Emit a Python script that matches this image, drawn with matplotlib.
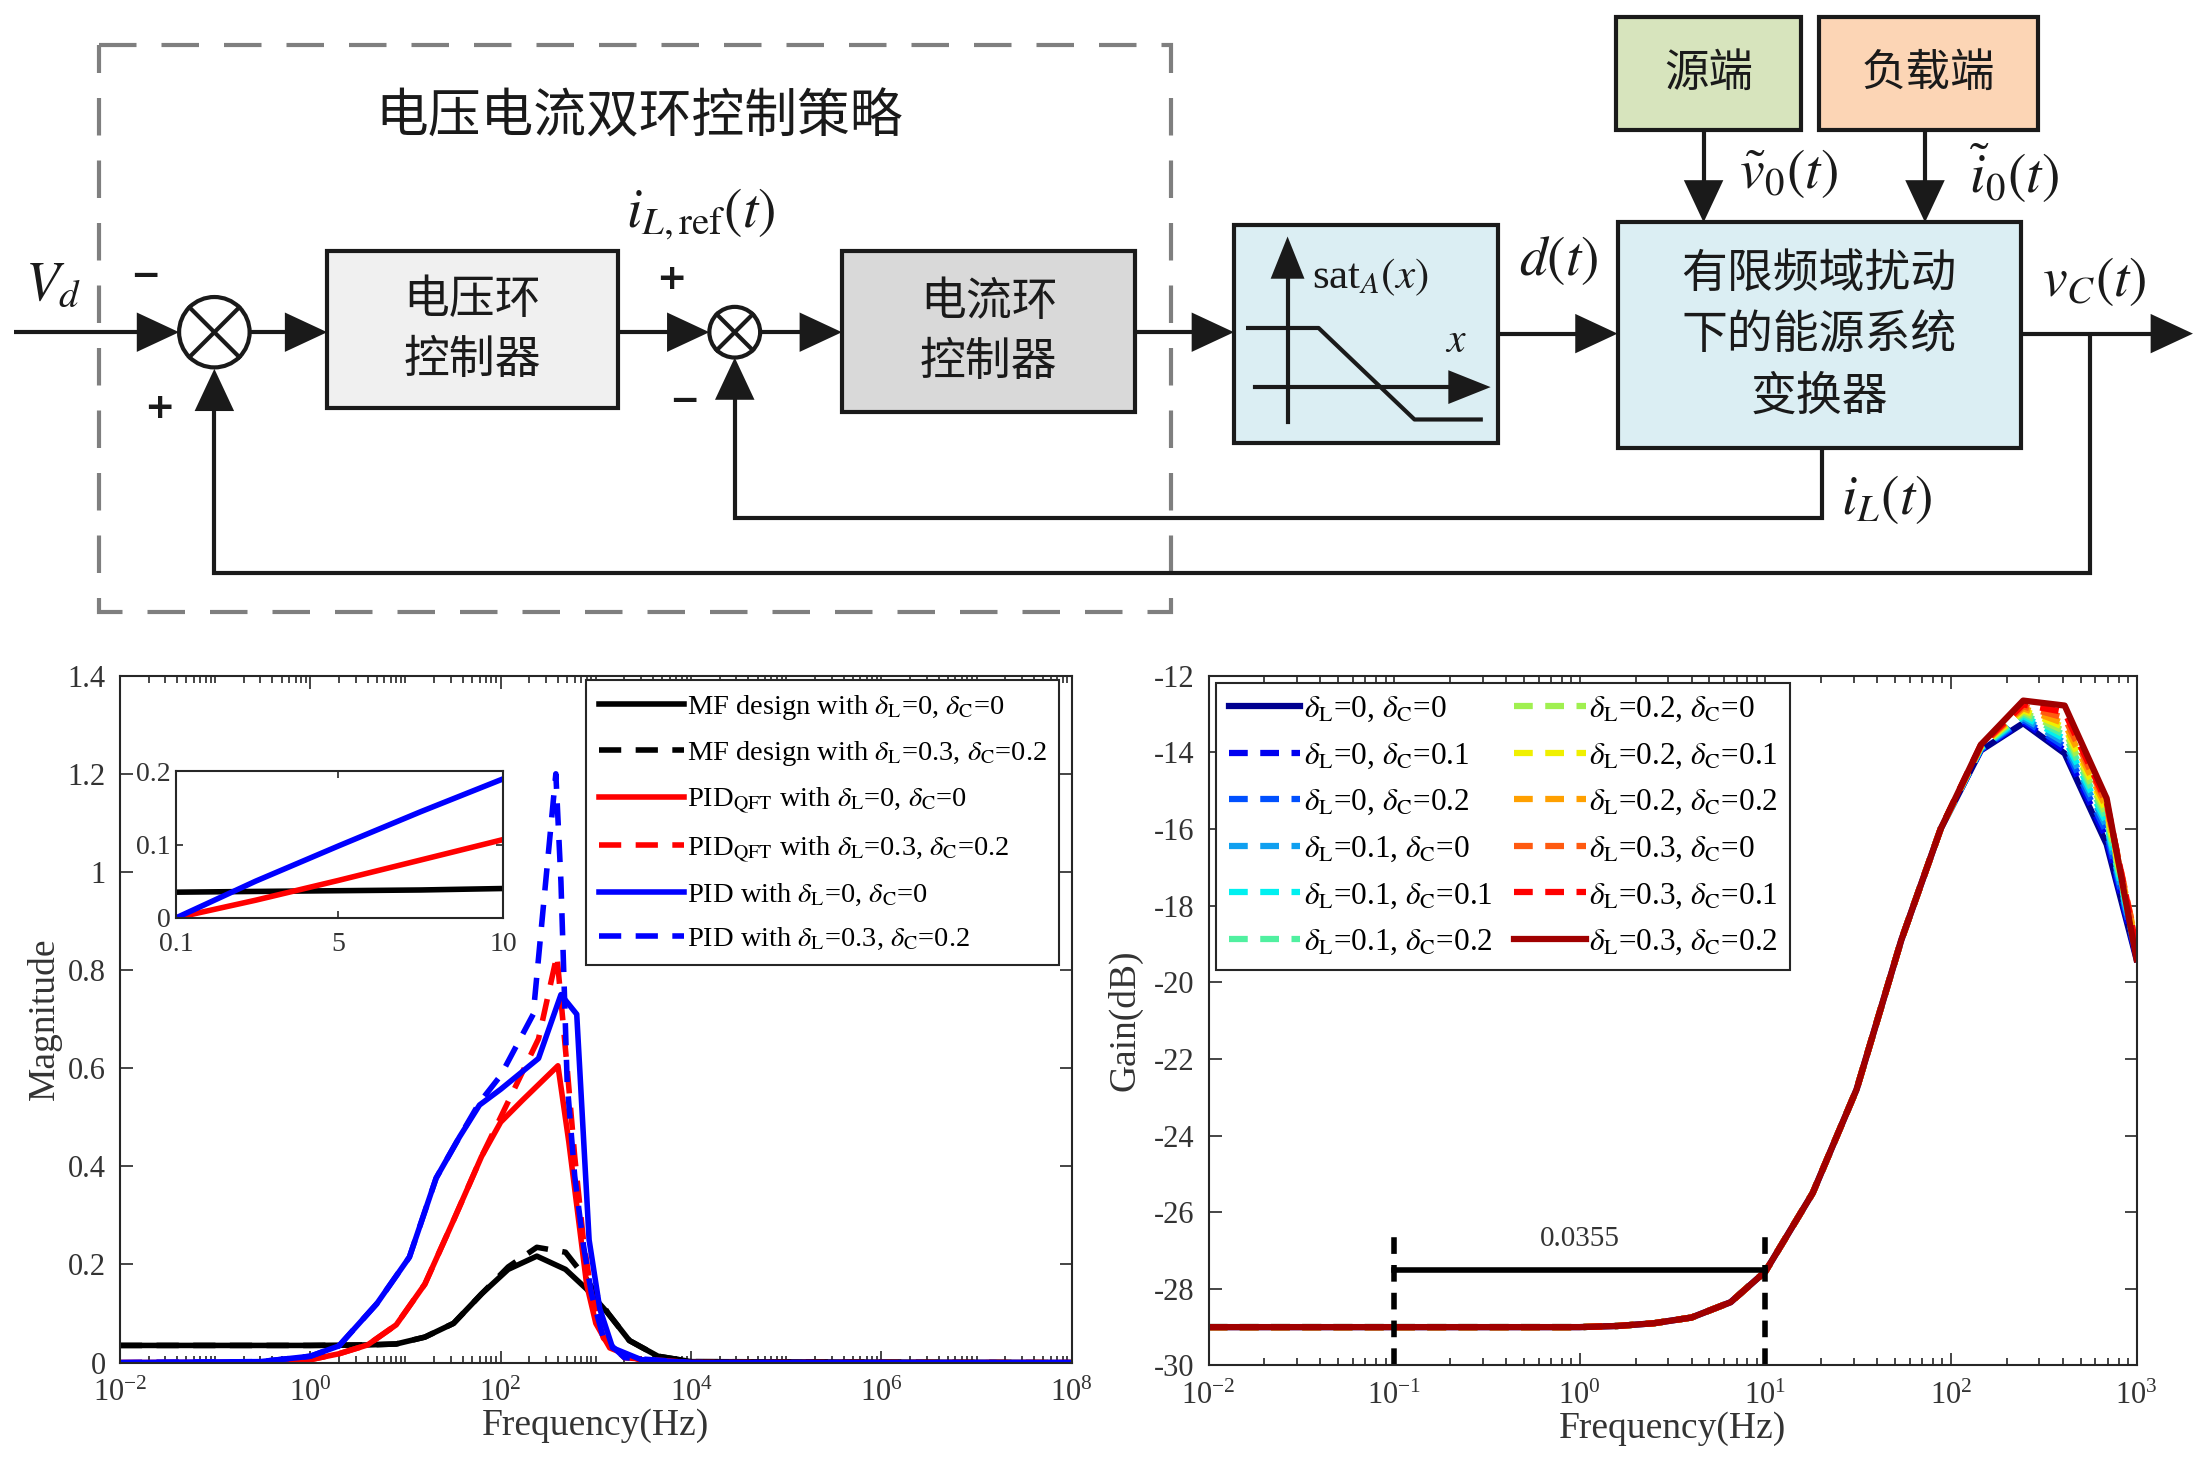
import numpy as np
import matplotlib.pyplot as plt
from matplotlib.patches import Rectangle, Polygon, Circle
from matplotlib.ticker import FuncFormatter, LogLocator, FixedLocator, NullFormatter

plt.rcParams['font.family'] = ['Liberation Serif', 'DejaVu Serif']
plt.rcParams['mathtext.fontset'] = 'stix'

# ---------------- data: magnitude plot (left) ----------------
f_mf = [0.01, 1, 4, 8, 16, 32, 63, 120, 240, 480, 800, 1350, 2250, 4500, 1e4, 1e8]
mf_nom = [0.035, 0.035, 0.036, 0.038, 0.052, 0.08, 0.14, 0.19, 0.217, 0.19, 0.15, 0.1, 0.045, 0.013, 0.002, 0]
mf_unc = [0.035, 0.035, 0.036, 0.038, 0.052, 0.08, 0.14, 0.195, 0.235, 0.225, 0.17, 0.1, 0.045, 0.013, 0.002, 0]

f_qft = [0.01, 0.3, 1, 2, 4, 8, 16, 32, 63, 100, 170, 400, 520, 650, 800, 1000, 1400, 3000, 1e4, 1e8]
qft_nom = [0, 0.001, 0.006, 0.018, 0.036, 0.077, 0.16, 0.29, 0.42, 0.49, 0.535, 0.605, 0.45, 0.3, 0.16, 0.08, 0.03, 0.004, 0, 0]
f_qft_u = [0.01, 0.3, 1, 2, 4, 8, 16, 32, 63, 100, 250, 390, 500, 600, 740, 900, 1200, 2000, 1e4, 1e8]
qft_unc = [0, 0.001, 0.006, 0.018, 0.036, 0.077, 0.16, 0.29, 0.42, 0.5, 0.66, 0.83, 0.6, 0.42, 0.25, 0.14, 0.05, 0.01, 0, 0]

f_pid = [0.01, 0.3, 1, 2, 5, 11, 21, 37, 60, 100, 250, 430, 630, 850, 1100, 1500, 3000, 1e4, 1e8]
pid_nom = [0, 0.002, 0.013, 0.034, 0.12, 0.215, 0.376, 0.46, 0.525, 0.557, 0.62, 0.75, 0.71, 0.25, 0.11, 0.03, 0.006, 0, 0]
f_pid_u = [0.01, 0.3, 1, 2, 5, 11, 21, 37, 60, 100, 220, 380, 430, 500, 600, 740, 900, 1200, 2000, 1e4, 1e8]
pid_unc = [0, 0.002, 0.013, 0.034, 0.12, 0.215, 0.376, 0.46, 0.53, 0.585, 0.71, 1.2, 0.98, 0.57, 0.38, 0.24, 0.14, 0.05, 0.01, 0, 0]

# inset (0.1 .. 10 Hz, linear)
f_ins = [0.1, 2.5, 5, 7.5, 10]
ins_mf = [0.035, 0.036, 0.037, 0.038, 0.04]
ins_qft = [0, 0.024, 0.051, 0.079, 0.107]
ins_pid = [0, 0.05, 0.098, 0.145, 0.19]

mag_labels = [r'MF design with $\delta_{\mathrm{L}}$=0, $\delta_{\mathrm{C}}$=0',
              r'MF design with $\delta_{\mathrm{L}}$=0.3, $\delta_{\mathrm{C}}$=0.2',
              r'PID$_{\mathrm{QFT}}$ with $\delta_{\mathrm{L}}$=0, $\delta_{\mathrm{C}}$=0',
              r'PID$_{\mathrm{QFT}}$ with $\delta_{\mathrm{L}}$=0.3, $\delta_{\mathrm{C}}$=0.2',
              r'PID with $\delta_{\mathrm{L}}$=0, $\delta_{\mathrm{C}}$=0',
              r'PID with $\delta_{\mathrm{L}}$=0.3, $\delta_{\mathrm{C}}$=0.2']

# ---------------- data: gain plot (right) ----------------
f_low = [0.01, 0.03, 0.1, 0.3, 1, 1.6, 2.5, 4, 6.5, 10, 18, 31, 54, 88]
g_low = [-29.0, -29.0, -29.0, -29.0, -29.0, -28.97, -28.9, -28.75, -28.35, -27.55, -25.5, -22.8, -18.9, -16.0]
f_top = [145, 245, 410, 690, 1000]
dL = ['0', '0', '0', '0.1', '0.1', '0.1', '0.2', '0.2', '0.2', '0.3', '0.3', '0.3']
dC = ['0', '0.1', '0.2', '0', '0.1', '0.2', '0', '0.1', '0.2', '0', '0.1', '0.2']
g_top = [[-13.95, -13.24, -14.03, -16.4, -19.4],
         [-13.93, -13.2, -13.95, -16.25, -19.35],
         [-13.92, -13.15, -13.85, -16.1, -19.3],
         [-13.9, -13.1, -13.75, -15.95, -19.25],
         [-13.88, -13.05, -13.65, -15.85, -19.2],
         [-13.87, -13.0, -13.55, -15.75, -19.15],
         [-13.85, -12.95, -13.45, -15.65, -19.1],
         [-13.84, -12.9, -13.35, -15.55, -19.05],
         [-13.83, -12.85, -13.25, -15.45, -19.0],
         [-13.82, -12.8, -13.1, -15.35, -19.0],
         [-13.81, -12.75, -12.95, -15.3, -19.1],
         [-13.8, -12.65, -12.78, -15.2, -19.4]]
gain_colors = ['#00008f', '#0000f0', '#0050ff', '#10a0f0', '#00f0f0', '#50f0a0',
               '#a0f050', '#f0f000', '#ffa000', '#ff5a10', '#ff0000', '#a00000']
band_lo, band_hi, band_level, band_text = 0.1, 10, -27.5, '0.0355'

k = '#1a1a1a'
tc = '#333333'

fig = plt.figure(figsize=(22, 14.71), dpi=100)

# ---------------- block diagram (coords in a 1560 x 1045 canvas) ----------------
ax0 = fig.add_axes([0, 0, 1, 1])
ax0.set_xlim(0, 1560)
ax0.set_ylim(1045, 0)
ax0.axis('off')

def line(xs, ys):
    ax0.plot(xs, ys, color=k, lw=3, solid_capstyle='butt', solid_joinstyle='miter', zorder=3)

def head(x, y, d, L=30, W=14):
    if d == 'r':
        pts = [(x, y), (x - L, y - W), (x - L, y + W)]
    elif d == 'd':
        pts = [(x, y), (x - W, y - L), (x + W, y - L)]
    else:
        pts = [(x, y), (x - W, y + L), (x + W, y + L)]
    ax0.add_patch(Polygon(pts, closed=True, fc=k, ec=k, lw=0, zorder=5))

def box(x0, y0, x1, y1, fc, txt, fs, ls=1.3):
    ax0.add_patch(Rectangle((x0, y0), x1 - x0, y1 - y0, fc=fc, ec=k, lw=3, zorder=2))
    ax0.text((x0 + x1) / 2, (y0 + y1) / 2, txt, ha='center', va='center', fontsize=fs,
             family=['Noto Sans CJK SC', 'DejaVu Sans'], color=k, linespacing=ls, zorder=4)

def junction(cx, cy, r):
    ax0.add_patch(Circle((cx, cy), r, fc='white', ec=k, lw=3, zorder=4))
    d = r * 0.707
    ax0.plot([cx - d, cx + d], [cy - d, cy + d], color=k, lw=3, zorder=5)
    ax0.plot([cx - d, cx + d], [cy + d, cy - d], color=k, lw=3, zorder=5)

ax0.add_patch(Rectangle((70, 32), 760, 403, fill=False, ec='#7f7f7f', lw=3,
                        ls=(0, (9, 6)), zorder=1))
ax0.text(453, 83, '电压电流双环控制策略', ha='center', va='center', fontsize=38,
         family=['Noto Sans CJK SC', 'DejaVu Sans'], color=k)

box(232, 178, 438, 290, '#f0f0f0', '电压环\n控制器', 33)
box(597, 178, 805, 293, '#d9d9d9', '电流环\n控制器', 33)
box(875, 160, 1062, 315, '#dbeef3', '', 30)
box(1147, 158, 1433, 318, '#dbeef3', '有限频域扰动\n下的能源系统\n变换器', 33, 1.35)
box(1146, 12, 1277, 92, '#d7e4bd', '源端', 32)
box(1290, 12, 1445, 92, '#fcd5b5', '负载端', 32)

junction(152, 236, 25)
junction(521, 236, 18)

# forward path
line([10, 110], [236, 236]); head(127, 236, 'r')
line([178, 215], [236, 236]); head(232, 236, 'r')
line([438, 490], [236, 236]); head(503, 236, 'r')
line([540, 580], [236, 236]); head(597, 236, 'r')
line([805, 860], [236, 236]); head(875, 236, 'r')
line([1062, 1130], [237, 237]); head(1147, 237, 'r')
line([1433, 1540], [237, 237]); head(1555, 237, 'r')
line([1208, 1208], [92, 140]); head(1208, 158, 'd')
line([1365, 1365], [92, 140]); head(1365, 158, 'd')
# feedback paths
line([1482, 1482, 152, 152], [237, 407, 407, 280]); head(152, 262, 'u')
line([1292, 1292, 521, 521], [318, 368, 368, 270]); head(521, 254, 'u')

# saturation glyph
ax0.plot([913, 913], [300, 190], color=k, lw=3, zorder=4); head(913, 168, 'u', L=30, W=12)
ax0.plot([890, 1035], [275, 275], color=k, lw=3, zorder=4); head(1057, 275, 'r', L=30, W=12)
ax0.plot([885, 935, 1003, 1050], [233, 233, 298, 298], color=k, lw=3, zorder=4)
ax0.text(930, 197, r'sat$_{A}(x)$', fontsize=31, va='center', ha='left', color=k, zorder=6)
ax0.text(1032, 243, r'$x$', fontsize=30, va='center', ha='center', color=k, zorder=6)

# signs and signal labels
for sx, sy, s in [(103, 196, '−'), (113, 290, '+'), (476, 198, '+'), (485, 285, '−')]:
    ax0.text(sx, sy, s, fontsize=26, fontweight='bold', family='DejaVu Sans',
             ha='center', va='center', color=k)
ms = 40
ax0.text(38, 203, r'$V_d$', fontsize=ms, ha='center', va='center', color=k)
ax0.text(497, 152, r'$i_{L,\mathrm{ref}}(t)$', fontsize=ms, ha='center', va='center', color=k)
ax0.text(1105, 185, r'$d(t)$', fontsize=ms, ha='center', va='center', color=k)
ax0.text(1268, 123, r'$\tilde{v}_0(t)$', fontsize=ms, ha='center', va='center', color=k)
ax0.text(1428, 123, r'$\tilde{i}_0(t)$', fontsize=ms, ha='center', va='center', color=k)
ax0.text(1485, 200, r'$v_C(t)$', fontsize=ms, ha='center', va='center', color=k)
ax0.text(1338, 355, r'$i_L(t)$', fontsize=ms, ha='center', va='center', color=k)

# ---------------- axes styling ----------------
def style(ax, size=22):
    for sp in ax.spines.values():
        sp.set_color('#262626')
        sp.set_linewidth(1.5)
    ax.tick_params(which='both', direction='in', top=True, right=True, colors='#262626',
                   labelcolor=tc, labelsize=size, width=1.2)
    ax.tick_params(which='major', length=9)
    ax.tick_params(which='minor', length=5)
    ax.tick_params(axis='x', which='major', pad=12)
    ax.tick_params(axis='y', which='major', pad=10)

gfmt = FuncFormatter(lambda v, p: '%g' % v)

# ---------------- left: magnitude ----------------
W, H = 1560, 1045
axL = fig.add_axes([85 / W, 1 - 968 / H, 675 / W, 488 / H])
lw = 4
axL.plot(f_mf, mf_nom, color='black', lw=lw, label=mag_labels[0])
axL.plot(f_mf, mf_unc, color='black', lw=lw, ls=(0, (4, 2.6)), label=mag_labels[1])
axL.plot(f_qft, qft_nom, color='#ff0000', lw=lw, label=mag_labels[2])
axL.plot(f_qft_u, qft_unc, color='#ff0000', lw=lw, ls=(0, (4, 2.6)), label=mag_labels[3])
axL.plot(f_pid, pid_nom, color='#0000ff', lw=lw, label=mag_labels[4])
axL.plot(f_pid_u, pid_unc, color='#0000ff', lw=lw, ls=(0, (4, 2.6)), label=mag_labels[5])
axL.set_xscale('log')
axL.set_xlim(1e-2, 1e8)
axL.set_ylim(0, 1.4)
axL.xaxis.set_major_locator(FixedLocator([1e-2, 1e0, 1e2, 1e4, 1e6, 1e8]))
axL.xaxis.set_minor_locator(LogLocator(base=10, subs=np.arange(1, 10), numticks=200))
axL.xaxis.set_minor_formatter(NullFormatter())
axL.set_yticks(np.arange(0, 1.41, 0.2))
axL.yaxis.set_major_formatter(gfmt)
style(axL)
axL.set_xlabel('Frequency(Hz)', fontsize=27, color=tc, labelpad=0)
axL.set_ylabel('Magnitude', fontsize=27, color=tc, labelpad=4)
legL = axL.legend(loc='upper right', bbox_to_anchor=(0.987, 0.994), fontsize=20.5,
                  frameon=True, fancybox=False, framealpha=1, edgecolor='#262626',
                  handlelength=3.0, handletextpad=0.1, labelspacing=0.62,
                  borderaxespad=0, borderpad=0.45)
legL.get_frame().set_linewidth(1.5)

axI = fig.add_axes([125 / W, 1 - 652 / H, 232 / W, 104 / H])
axI.plot(f_ins, ins_mf, color='black', lw=lw)
axI.plot(f_ins, ins_qft, color='#ff0000', lw=lw)
axI.plot(f_ins, ins_pid, color='#0000ff', lw=lw)
axI.set_xlim(0.1, 10)
axI.set_ylim(0, 0.2)
axI.set_xticks([0.1, 5, 10])
axI.set_yticks([0, 0.1, 0.2])
axI.xaxis.set_major_formatter(gfmt)
axI.yaxis.set_major_formatter(gfmt)
style(axI, 20)
axI.tick_params(which='major', length=5)
axI.tick_params(axis='x', which='major', pad=10)
axI.tick_params(axis='y', which='major', pad=4)

# ---------------- right: gain ----------------
axR = fig.add_axes([857 / W, 1 - 970 / H, 658 / W, 490 / H])
for i in range(12):
    ls = '-' if i in (0, 11) else (0, (3, 2))
    axR.plot(f_low + f_top, g_low + g_top[i], color=gain_colors[i], lw=4.5, ls=ls,
             label=r'$\delta_{\mathrm{L}}$=%s, $\delta_{\mathrm{C}}$=%s' % (dL[i], dC[i]))
axR.plot([band_lo, band_lo], [-30, -26.4], color='black', lw=4, ls=(0, (3, 2)))
axR.plot([band_hi, band_hi], [-30, -26.4], color='black', lw=4, ls=(0, (3, 2)))
axR.plot([band_lo, band_hi], [band_level, band_level], color='black', lw=4)
axR.text(np.sqrt(band_lo * band_hi), band_level + 0.45, band_text, ha='center', va='bottom',
         fontsize=21, color=tc)
axR.set_xscale('log')
axR.set_xlim(1e-2, 1e3)
axR.set_ylim(-30, -12)
axR.xaxis.set_major_locator(LogLocator(base=10, numticks=20))
axR.xaxis.set_minor_locator(LogLocator(base=10, subs=np.arange(1, 10), numticks=200))
axR.xaxis.set_minor_formatter(NullFormatter())
axR.set_yticks(np.arange(-30, -11, 2))
axR.yaxis.set_major_formatter(gfmt)
style(axR)
axR.set_xlabel('Frequency(Hz)', fontsize=27, color=tc, labelpad=0)
axR.set_ylabel('Gain(dB)', fontsize=27, color=tc, labelpad=8)
legR = axR.legend(loc='upper left', bbox_to_anchor=(0.008, 0.99), ncol=2, fontsize=22.5,
                  frameon=True, fancybox=False, framealpha=1, edgecolor='#262626',
                  handlelength=2.3, handletextpad=0.1, labelspacing=0.55, columnspacing=0.7,
                  borderaxespad=0, borderpad=0.4)
legR.get_frame().set_linewidth(1.5)

fig.savefig('out.png', dpi=100)
